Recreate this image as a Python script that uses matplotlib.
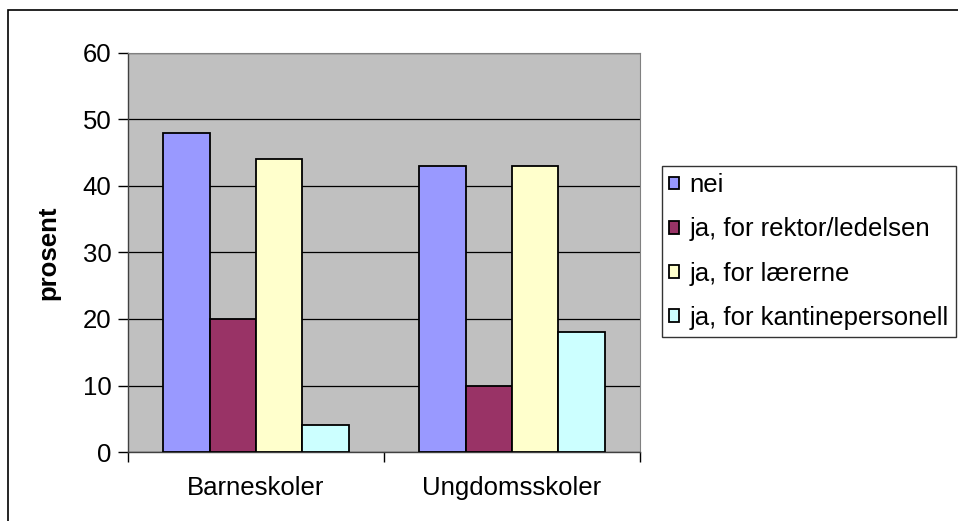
import matplotlib.pyplot as plt
import matplotlib.patches as mpatches
import numpy as np

plt.rcParams['font.family'] = ['Liberation Sans', 'DejaVu Sans']

# data
categories = ['Barneskoler', 'Ungdomsskoler']
series_names = ['nei', 'ja, for rektor/ledelsen', 'ja, for lærerne', 'ja, for kantinepersonell']
values_nei = [48, 43]
values_rektor = [20, 10]
values_laerer = [44, 43]
values_kantine = [4, 18]
series_values = [values_nei, values_rektor, values_laerer, values_kantine]
colors = ['#9999FF', '#993366', '#FFFFCC', '#CCFFFF']

W, H = 958, 521
fs = 18.5
fig = plt.figure(figsize=(W / 100, H / 100), dpi=100)
ax = fig.add_axes([128 / W, (H - 452) / H, 512 / W, 399 / H])
ax.set_facecolor('#C0C0C0')

x = np.arange(len(categories))
bw = 0.1816
for i, (name, vals) in enumerate(zip(series_names, series_values)):
    ax.bar(x + (i - 1.5) * bw, vals, width=bw, color=colors[i],
           edgecolor='black', linewidth=1.3, label=name, zorder=3)

ax.set_xlim(-0.5, 1.5)
ax.set_ylim(0, 60)
ax.set_yticks(range(0, 61, 10))
ax.yaxis.grid(True, color='black', linewidth=0.9, zorder=1)
ax.set_axisbelow(True)

ax.set_xticks(x)
ax.set_xticklabels(categories)
ax.set_xticks([-0.5, 0.5, 1.5], minor=True)
ax.tick_params(axis='x', which='major', length=0, pad=17, labelsize=fs)
ax.tick_params(axis='x', which='minor', length=7, width=1, direction='out')
ax.tick_params(axis='y', length=7, width=1, direction='out', pad=5, labelsize=fs)

for s in ['top', 'right']:
    ax.spines[s].set_color('#808080')
for s in ['left', 'bottom']:
    ax.spines[s].set_color('#404040')
    ax.spines[s].set_linewidth(1)

ax.set_ylabel('prosent', fontsize=fs, fontweight='bold', labelpad=16)

leg = fig.legend(loc='upper left', bbox_to_anchor=(662 / W, 1 - 166 / H),
                 frameon=True, fancybox=False, fontsize=fs,
                 handlelength=0.4, handleheight=0.4, handletextpad=0.4,
                 labelspacing=0.79, borderpad=0.28, borderaxespad=0)
leg.get_frame().set_edgecolor('black')
leg.get_frame().set_linewidth(1)

# outer chart border
fig.patches.append(mpatches.Rectangle((8 / W, -0.1), 1.2, 1 - 10 / H + 0.1,
                                      transform=fig.transFigure, fill=False,
                                      edgecolor='black', linewidth=1.2))

fig.savefig('out.png', dpi=100)
